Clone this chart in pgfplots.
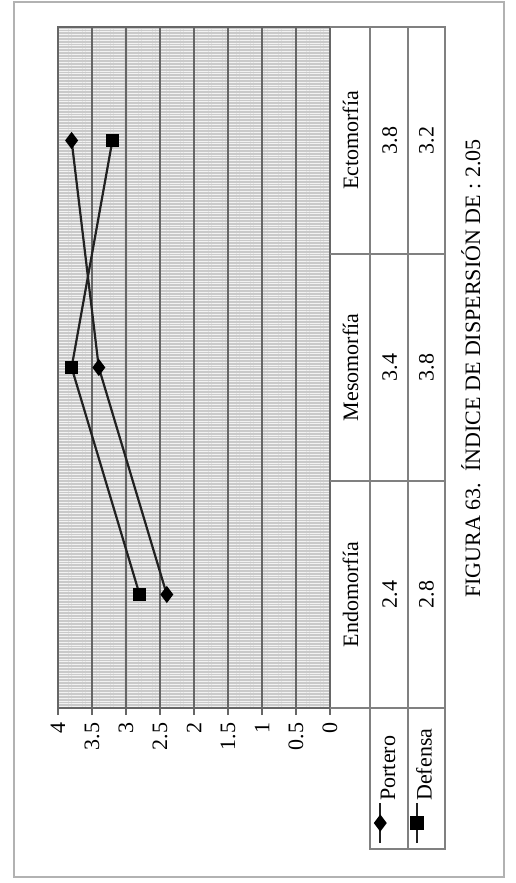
\documentclass[border=0pt]{standalone}
\usepackage{pgfplots}
\pgfplotsset{compat=1.18}
\usepackage{fontspec}
\setmainfont{Liberation Serif}
\usetikzlibrary{patterns.meta}
\definecolor{gridc}{gray}{0.4}
\definecolor{tabc}{gray}{0.5}
\definecolor{linec}{gray}{0.13}
\begin{document}
\fontsize{11}{13}\selectfont
\begin{tikzpicture}[font=\fontsize{11}{13}\selectfont]
\path[use as bounding box] (-29pt,-87.5pt) rectangle (228.5pt,354pt);
\draw[gray!60, line width=0.6pt] (-22pt,-84.5pt) rectangle (223pt,353pt);
\begin{axis}[
  at={(0,0)}, anchor=south west,
  scale only axis, width=136pt, height=340.5pt,
  xmin=0, xmax=4, x dir=reverse,
  ymin=-0.5, ymax=2.5,
  xtick={0,0.5,1,1.5,2,2.5,3,3.5,4},
  ytick=\empty,
  xmajorgrids,
  major grid style={gridc, line width=0.8pt},
  axis line style={gridc, line width=0.8pt},
  tick align=outside, major tick length=3.5pt,
  tick style={gridc, line width=0.8pt},
  xtick pos=bottom,
  xticklabel style={rotate=90, anchor=east, font=\fontsize{11}{13}\selectfont},
  /pgf/number format/assume math mode=true,
  clip=false,
  axis background/.style={preaction={fill=gray!42}, pattern={Lines[angle=0,distance=1.4pt,line width=0.45pt]}, pattern color=white!90!gray},
  legend columns=2,
  legend style={at={(1.279,-0.1689)}, anchor=center, draw=none, fill=none,
    column sep=6pt, inner sep=0pt, outer sep=0pt,
    nodes={inner sep=0pt, outer sep=0pt}},
  legend image code/.code={%
    \draw[mark repeat=2,mark phase=2,#1] plot coordinates {(0pt,-10pt)(0pt,0pt)(0pt,10pt)};},
]
\addplot[linec, line width=1.1pt, mark=diamond*, mark size=3.4pt, mark options={fill=black, draw=black, solid}]
  coordinates {(2.4,0) (3.4,1) (3.8,2)};
\addlegendentry{}
\addplot[linec, line width=1.1pt, mark=square*, mark size=2.8pt, mark options={fill=black, draw=black, solid}]
  coordinates {(2.8,0) (3.8,1) (3.2,2)};
\addlegendentry{}
% data table
\draw[tabc, line width=0.6pt] (axis cs:0,2.5) -- (axis cs:-1.69,2.5) -- (axis cs:-1.69,-1.121) -- (axis cs:-0.588,-1.121) -- (axis cs:-0.588,2.5);
\draw[tabc, line width=0.6pt] (axis cs:-1.147,2.5) -- (axis cs:-1.147,-1.121);
\draw[tabc, line width=0.6pt] (axis cs:0,1.5) -- (axis cs:-1.69,1.5);
\draw[tabc, line width=0.6pt] (axis cs:0,0.5) -- (axis cs:-1.69,0.5);
\draw[tabc, line width=0.6pt] (axis cs:0,-0.5) -- (axis cs:-1.69,-0.5);
\node[rotate=90] at (axis cs:-0.30,0) {Endomorfía};
\node[rotate=90] at (axis cs:-0.30,1) {Mesomorfía};
\node[rotate=90] at (axis cs:-0.30,2) {Ectomorfía};
\node[rotate=90] at (axis cs:-0.88,0) {2.4};
\node[rotate=90] at (axis cs:-0.88,1) {3.4};
\node[rotate=90] at (axis cs:-0.88,2) {3.8};
\node[rotate=90] at (axis cs:-1.42,0) {2.8};
\node[rotate=90] at (axis cs:-1.42,1) {3.8};
\node[rotate=90] at (axis cs:-1.42,2) {3.2};
\node[rotate=90, anchor=west, inner sep=0pt] at (axis cs:-0.853,-0.91) {Portero};
\node[rotate=90, anchor=west, inner sep=0pt] at (axis cs:-1.382,-0.91) {Defensa};
\end{axis}
\node[rotate=90, anchor=base, inner sep=0pt] at (211pt,169.75pt) {FIGURA 63.\ \ ÍNDICE DE DISPERSIÓN DE : 2.05};
\end{tikzpicture}
\end{document}
